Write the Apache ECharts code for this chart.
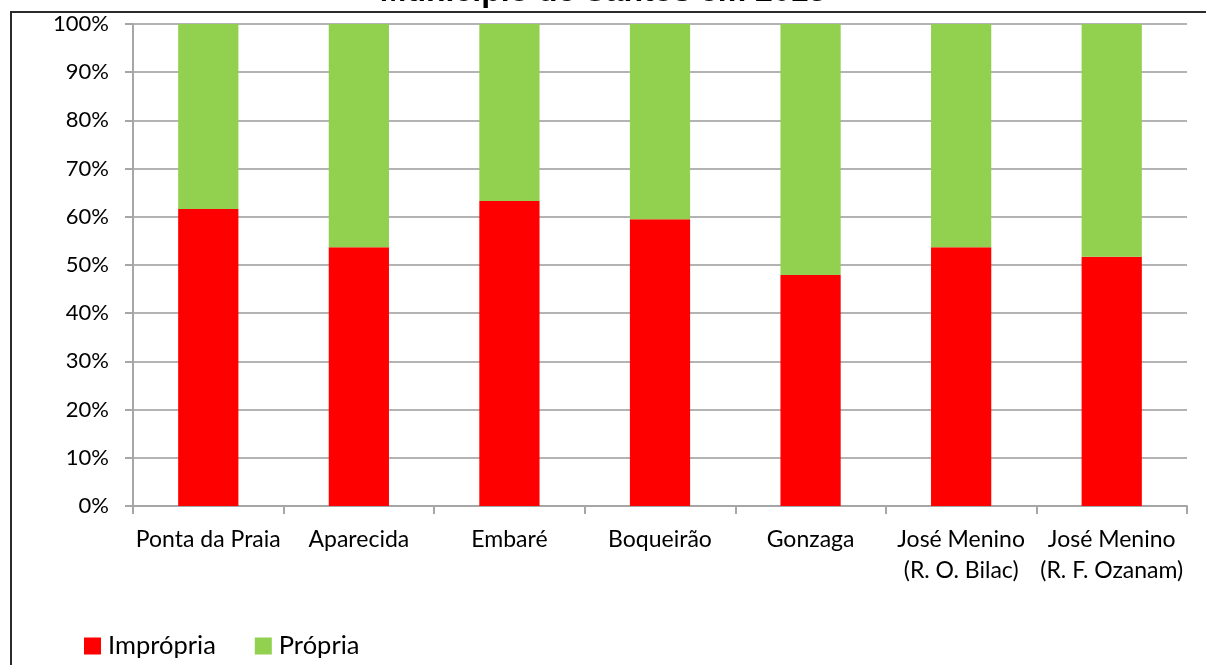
<!DOCTYPE html>
<html>
<head>
<meta charset="utf-8">
<script src="https://cdn.jsdelivr.net/npm/echarts@6/dist/echarts.min.js"></script>
<style>html,body{margin:0;padding:0;background:#fff;}#c{width:1206px;height:665px;}</style>
</head>
<body>
<div id="c"></div>
<script>
var categories = ['Ponta da Praia', 'Aparecida', 'Embaré', 'Boqueirão', 'Gonzaga', 'José Menino\n(R. O. Bilac)', 'José Menino\n(R. F. Ozanam)'];
var impropria = [61.6, 53.7, 63.3, 59.5, 47.9, 53.7, 51.7];
var propria = [38.4, 46.3, 36.7, 40.5, 52.1, 46.3, 48.3];
var yTicks = [0, 10, 20, 30, 40, 50, 60, 70, 80, 90, 100];
var titleText = 'Município de Santos em 2013';

var FONT = 'Lato';
var chart = echarts.init(document.getElementById('c'), null, {renderer: 'canvas'});
chart.setOption({
  animation: false,
  backgroundColor: '#ffffff',
  title: {
    text: titleText,
    left: 'center',
    top: -29,
    textStyle: {fontFamily: 'Liberation Sans', fontWeight: 'bold', fontSize: 32, color: '#000'}
  },
  graphic: [
    {type: 'line', z: 100, shape: {x1: 10, y1: 12, x2: 1206, y2: 12}, style: {stroke: '#2b2b2b', lineWidth: 2}},
    {type: 'line', z: 100, shape: {x1: 11, y1: 12, x2: 11, y2: 665}, style: {stroke: '#2b2b2b', lineWidth: 2}}
  ],
  legend: {
    left: 79,
    top: 628,
    itemWidth: 17,
    itemHeight: 17,
    itemGap: 39,
    icon: 'rect',
    textStyle: {fontFamily: FONT, fontSize: 25.5, color: '#000', padding: [0, 0, 0, 2]},
    data: ['Imprópria', 'Própria']
  },
  grid: {left: 133, right: 19, top: 24, bottom: 159, containLabel: false},
  xAxis: {
    type: 'category',
    data: categories,
    boundaryGap: true,
    axisLine: {show: true, lineStyle: {color: '#a6a6a6', width: 2}},
    axisTick: {show: true, length: 8, interval: 0, lineStyle: {color: '#a6a6a6', width: 2}},
    axisLabel: {interval: 0, margin: 18, fontFamily: FONT, fontSize: 23, lineHeight: 31, color: '#000'}
  },
  yAxis: {
    type: 'value',
    min: yTicks[0],
    max: yTicks[yTicks.length - 1],
    interval: 10,
    axisLine: {show: true, lineStyle: {color: '#a6a6a6', width: 2}},
    axisTick: {show: true, length: 8, lineStyle: {color: '#a6a6a6', width: 2}},
    splitLine: {show: true, lineStyle: {color: '#b3b3b3', width: 2}},
    axisLabel: {margin: 24, fontFamily: FONT, fontSize: 22, color: '#000', formatter: '{value}%'}
  },
  series: [
    {name: 'Imprópria', type: 'bar', stack: 's', data: impropria, barWidth: '40%', itemStyle: {color: '#ff0000'}},
    {name: 'Própria', type: 'bar', stack: 's', data: propria, barWidth: '40%', itemStyle: {color: '#92d050'}}
  ]
});
</script>
</body>
</html>
